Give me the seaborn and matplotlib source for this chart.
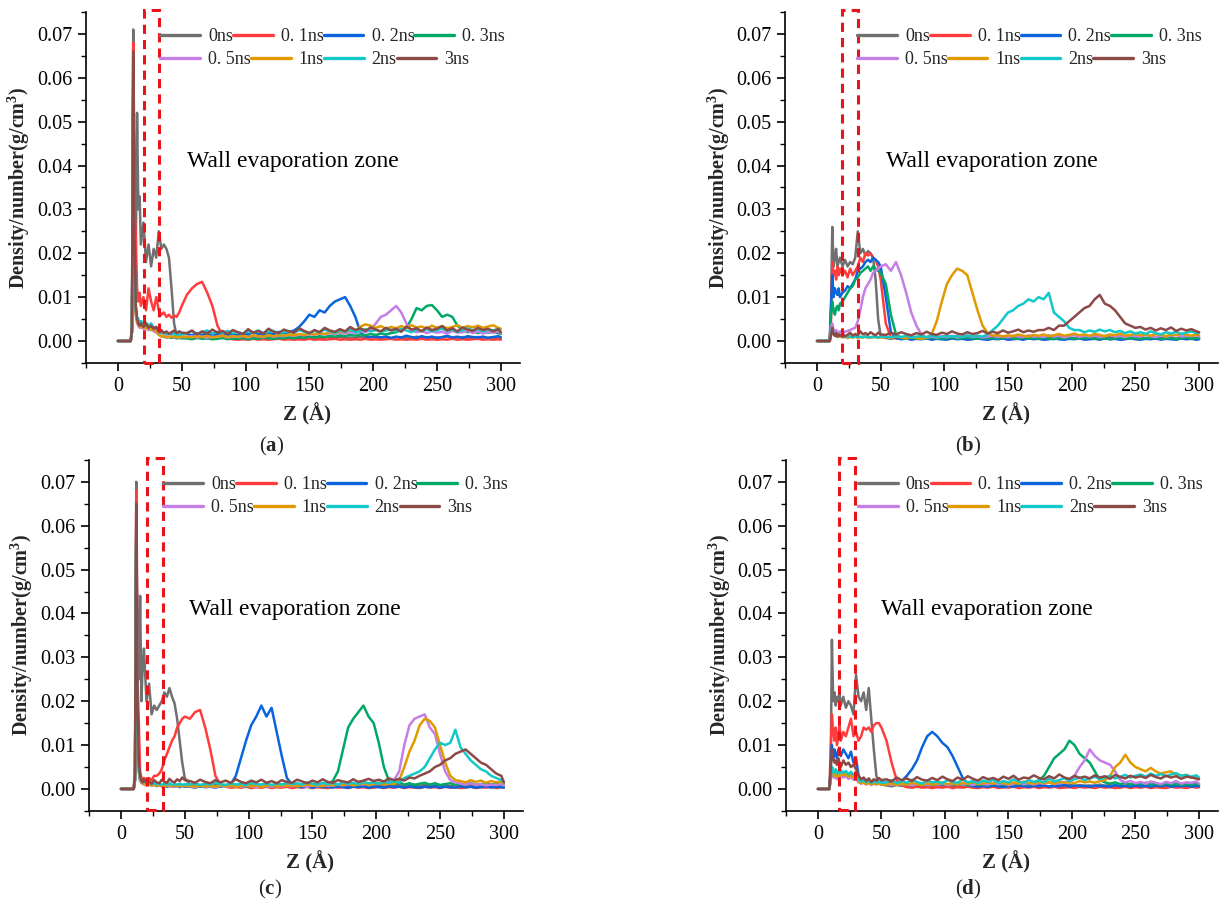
import matplotlib
matplotlib.use("Agg")
import matplotlib.pyplot as plt
import matplotlib.ticker as mticker
from matplotlib.lines import Line2D
from matplotlib.patches import Rectangle
import pandas as pd
import seaborn as sns

# sample positions along Z (Angstrom), shared by every curve
z = [0, 9, 10, 11, 12, 13, 14, 15, 16, 17, 18,
     20, 22, 24, 26, 28, 30, 32, 34, 36, 38, 40, 42, 44, 46, 48, 50,
     54, 58, 62, 66, 70, 74, 78, 82, 86, 90,
     94, 98, 102, 106, 110, 114, 118, 122, 126, 130,
     134, 138, 142, 146, 150, 154, 158, 162, 166, 170,
     174, 178, 182, 186, 190, 194, 198, 202, 206, 210,
     214, 218, 222, 226, 230, 234, 238, 242, 246, 250,
     254, 258, 262, 266, 270, 274, 278, 282, 286, 290,
     294, 298, 300]

times = ["0ns", "0.1ns", "0.2ns", "0.3ns", "0.5ns", "1ns", "2ns", "3ns"]
legend_labels = ["0ns", "0. 1ns", "0. 2ns", "0. 3ns", "0. 5ns", "1ns", "2ns", "3ns"]
colors = ["#707070", "#ff3d3d", "#0a64dc", "#00a865", "#c47ee6", "#e09a00", "#12c8c8", "#8b4a48"]

# density values, in units of 1e-3 g/cm^3
# ---- panel (a)
a_0ns = [0, 0, 0, 3, 71, 35, 20, 52, 30, 33, 22,
         27, 18, 22, 17, 21, 19, 25, 21, 22, 21, 19, 12, 4, 1.2, 0.8, 1.0,
         0.8, 1.0, 0.7, 0.9, 0.6, 0.8, 1.0, 0.7, 0.9, 0.6,
         0.8, 0.7, 1.0, 0.6, 0.9, 0.7, 0.8, 1.0, 0.6, 0.9,
         0.7, 0.8, 0.6, 1.0, 0.7, 0.9, 0.6, 0.8, 1.0, 0.7,
         0.9, 0.6, 0.8, 0.7, 1.0, 0.6, 0.9, 0.7, 0.8, 1.0,
         0.6, 0.9, 0.7, 0.8, 0.6, 1.0, 0.7, 0.9, 0.6, 0.8,
         0.7, 1.0, 0.6, 0.8, 0.9, 0.7, 0.6, 0.9, 0.8, 0.7,
         0.9, 0.6, 0.8]
a_01 = [0, 0, 0, 2, 68, 30, 24, 12, 9, 11, 8,
        10, 7, 12, 9, 7, 10, 7, 6, 6.5, 5.5, 6, 5.3, 5.8, 5.5, 6.5, 8,
        10.5, 12, 13, 13.5, 11, 8, 3.5, 1.2, 0.6, 0.4,
        0.3, 0.4, 0.3, 0.5, 0.3, 0.4, 0.3, 0.4, 0.5, 0.3,
        0.4, 0.3, 0.4, 0.3, 0.5, 0.3, 0.4, 0.3, 0.4, 0.5,
        0.3, 0.4, 0.3, 0.4, 0.3, 0.5, 0.3, 0.4, 0.3, 0.4,
        0.5, 0.3, 0.4, 0.3, 0.4, 0.3, 0.5, 0.3, 0.4, 0.3,
        0.4, 0.3, 0.5, 0.3, 0.4, 0.3, 0.4, 0.5, 0.3, 0.4,
        0.3, 0.4, 0.3]
a_02 = [0, 0, 0, 2, 60, 20, 8, 5, 4.5, 4, 4.5,
        3.5, 4, 3, 3.5, 3, 2.5, 2, 2.2, 1.8, 2, 1.7, 1.9, 1.6, 1.8, 1.5, 1.7,
        1.6, 1.3, 1.8, 1.4, 1.7, 1.2, 1.6, 1.9, 1.4, 1.7,
        1.3, 1.8, 1.5, 2.0, 1.6, 1.4, 1.9, 1.5, 2.1, 1.7,
        2.0, 2.4, 3.2, 4.5, 6.0, 5.5, 7.0, 6.5, 8.0, 9.0,
        9.5, 10.0, 8.0, 5.5, 2.0, 1.0, 0.9, 1.1, 0.8, 1.0,
        0.7, 1.0, 0.8, 1.2, 0.9, 0.7, 1.1, 0.8, 1.0, 0.7,
        0.9, 1.2, 0.8, 1.0, 0.7, 1.1, 0.9, 0.8, 1.0, 0.7,
        0.9, 1.1, 0.8]
a_03 = [0, 0, 0, 2, 55, 18, 7, 4.5, 4, 3.5, 4,
        3, 3.5, 2.5, 3, 2.5, 2, 1.5, 1.2, 1, 0.8, 0.9, 0.7, 0.8, 0.6, 0.7, 0.6,
        0.6, 0.4, 0.7, 0.5, 0.6, 0.4, 0.5, 0.7, 0.4, 0.6,
        0.5, 0.7, 0.4, 0.6, 0.5, 0.8, 0.6, 0.5, 0.7, 0.6,
        0.8, 0.6, 0.9, 0.7, 1.0, 0.8, 1.1, 0.9, 1.2, 1.0,
        1.3, 1.1, 1.4, 1.2, 1.5, 1.3, 1.6, 1.4, 1.7, 1.5,
        1.8, 2.0, 2.5, 3.0, 5.0, 7.5, 7.0, 8.0, 8.2, 7.0,
        5.5, 6.0, 5.5, 3.5, 2.5, 2.0, 2.3, 1.8, 2.2, 1.9,
        2.1, 1.8, 1.6]
a_05 = [0, 0, 0, 2, 50, 15, 6, 4, 3.5, 3, 3.2,
        2.8, 3, 2.5, 2.7, 2.2, 2, 1.5, 1.2, 1, 1.1, 0.9, 1, 0.8, 0.9, 0.8, 0.9,
        0.9, 1.1, 0.8, 1.0, 0.7, 1.0, 0.9, 1.2, 0.8, 1.0,
        0.9, 1.1, 0.8, 1.2, 1.0, 0.9, 1.3, 1.0, 1.2, 1.1,
        1.4, 1.2, 1.5, 1.3, 1.6, 1.4, 1.7, 1.5, 1.8, 1.6,
        1.9, 1.7, 2.0, 1.8, 2.2, 2.0, 2.5, 4.0, 5.5, 6.0,
        7.0, 8.0, 6.5, 4.0, 2.5, 2.0, 2.3, 1.8, 2.2, 1.9,
        2.1, 1.7, 2.3, 1.9, 2.0, 2.4, 1.8, 2.2, 1.7, 2.1,
        1.9, 2.2, 1.8]
a_1 = [0, 0, 0, 2, 52, 16, 6, 4.5, 3.5, 4, 3,
       3.5, 2.8, 3.2, 2.5, 2.8, 2.2, 1.4, 1, 1.2, 0.8, 1, 0.9, 1.1, 0.8, 1, 0.9,
       1.0, 0.8, 1.1, 0.9, 1.2, 0.8, 1.0, 1.2, 0.9, 1.1,
       1.0, 1.2, 0.9, 1.3, 1.1, 1.0, 1.3, 1.1, 1.4, 1.2,
       1.5, 1.3, 1.6, 1.4, 1.7, 1.5, 1.8, 1.6, 2.0, 1.8,
       2.2, 2.0, 2.5, 2.3, 3.3, 3.8, 3.5, 3.0, 3.4, 2.8,
       3.2, 2.9, 3.4, 3.0, 3.6, 3.1, 3.3, 2.8, 3.5, 3.0,
       3.4, 2.9, 3.2, 3.6, 3.0, 3.4, 3.1, 3.5, 3.0, 3.3,
       3.6, 3.0, 2.8]
a_2 = [0, 0, 0, 2, 58, 20, 7, 5.5, 5, 4, 4.5,
       3.8, 4.2, 3.5, 4, 3, 3.2, 2, 1.8, 2, 1.6, 1.8, 1.5, 1.7, 1.4, 1.6, 1.5,
       1.8, 2.2, 1.6, 2.0, 2.4, 1.7, 2.1, 1.9, 2.3, 1.8,
       2.0, 1.7, 2.2, 1.9, 2.4, 1.8, 2.1, 2.3, 1.7, 2.0,
       2.2, 1.9, 2.5, 2.1, 1.8, 2.3, 2.0, 2.6, 2.2, 1.9,
       2.4, 2.1, 2.6, 2.0, 2.3, 2.7, 2.2, 2.5, 2.1, 2.4,
       2.6, 2.2, 2.8, 2.4, 2.0, 2.6, 2.3, 2.7, 2.2, 2.5,
       2.8, 2.3, 2.6, 2.1, 2.5, 2.9, 2.4, 2.7, 2.2, 2.6,
       2.4, 2.8, 2.0]
a_3 = [0, 0, 0, 3, 66, 25, 8, 5, 4, 3.5, 4,
       3.2, 4, 3, 3.5, 2.8, 3.2, 2.2, 2.5, 1.8, 2.2, 1.6, 2, 2.4, 1.8, 2.2, 1.9,
       1.8, 2.4, 1.5, 2.2, 1.7, 2.6, 1.9, 2.3, 1.6, 2.5,
       2.0, 1.6, 2.7, 1.9, 2.3, 1.7, 2.8, 2.1, 1.8, 2.6,
       2.2, 1.9, 2.9, 2.3, 1.8, 2.5, 2.0, 3.0, 2.4, 2.1,
       2.7, 2.2, 3.2, 2.5, 2.9, 2.3, 3.1, 2.6, 2.2, 3.0,
       2.4, 2.8, 2.1, 3.3, 2.6, 2.9, 2.2, 3.1, 2.5, 2.8,
       3.4, 2.4, 2.9, 2.2, 3.1, 2.6, 2.3, 3.0, 2.5, 2.8,
       2.2, 2.7, 2.0]

# ---- panel (b)
b_0ns = [0, 0, 0, 8, 26, 17, 19, 21, 17, 18, 19,
         17, 18.5, 17, 18, 17.5, 19, 25, 20, 21, 19.5, 20.5, 20, 19, 14, 5, 1,
         0.7, 0.5, 0.8, 0.6, 0.9, 0.5, 0.7, 0.6, 0.8, 0.5,
         0.7, 0.9, 0.6, 0.8, 0.5, 0.7, 0.6, 0.9, 0.5, 0.8,
         0.6, 0.7, 0.5, 0.8, 0.6, 0.9, 0.7, 0.5, 0.8, 0.6,
         0.7, 0.5, 0.9, 0.6, 0.8, 0.5, 0.7, 0.6, 0.9, 0.7,
         0.5, 0.8, 0.6, 0.7, 0.9, 0.5, 0.8, 0.6, 0.7, 0.5,
         0.9, 0.6, 0.8, 0.5, 0.7, 0.6, 0.9, 0.5, 0.8, 0.6,
         0.7, 0.5, 0.8]
b_01 = [0, 0, 0, 5, 18, 15, 16, 14, 17, 15, 16.5,
        15, 16, 14.5, 16.5, 15, 16, 17, 19, 18, 20, 19.5, 20, 19, 18.5, 17, 14,
        4, 0.8, 0.6, 0.5, 0.7, 0.4, 0.6, 0.5, 0.7, 0.4,
        0.6, 0.5, 0.4, 0.7, 0.5, 0.6, 0.4, 0.5, 0.7, 0.5,
        0.4, 0.6, 0.5, 0.7, 0.4, 0.5, 0.6, 0.4, 0.7, 0.5,
        0.6, 0.4, 0.5, 0.7, 0.5, 0.4, 0.6, 0.5, 0.7, 0.4,
        0.5, 0.6, 0.4, 0.7, 0.5, 0.6, 0.4, 0.5, 0.7, 0.5,
        0.4, 0.6, 0.5, 0.7, 0.4, 0.6, 0.5, 0.4, 0.7, 0.5,
        0.6, 0.4, 0.5]
b_02 = [0, 0, 0, 8, 15, 10, 12, 11, 10.5, 12, 10,
        11, 11.5, 12.5, 12, 13, 14, 16, 16.5, 17, 18, 18.5, 18, 19, 18.5, 18, 17,
        10, 2, 0.7, 0.4, 0.6, 0.3, 0.5, 0.4, 0.6, 0.3,
        0.5, 0.4, 0.3, 0.6, 0.4, 0.5, 0.3, 0.4, 0.6, 0.4,
        0.3, 0.5, 0.4, 0.6, 0.3, 0.4, 0.5, 0.3, 0.6, 0.4,
        0.5, 0.3, 0.4, 0.6, 0.4, 0.3, 0.5, 0.4, 0.6, 0.3,
        0.4, 0.5, 0.3, 0.6, 0.4, 0.5, 0.3, 0.4, 0.6, 0.4,
        0.3, 0.5, 0.4, 0.6, 0.3, 0.5, 0.4, 0.3, 0.6, 0.4,
        0.5, 0.3, 0.4]
b_03 = [0, 0, 0, 6, 9, 7, 6, 7.5, 8, 7, 8.5,
        9, 10, 11, 12, 12.5, 14, 14.5, 15.5, 16, 16.5, 17, 16, 17, 16.5, 16, 15.5,
        13, 6, 1.5, 0.8, 0.6, 0.9, 0.5, 0.7, 0.6, 0.8,
        0.5, 0.7, 0.6, 0.9, 0.5, 0.7, 0.8, 0.6, 0.5, 0.7,
        0.6, 0.8, 0.5, 0.7, 0.9, 0.6, 0.5, 0.8, 0.6, 0.7,
        0.5, 0.8, 0.6, 0.4, 0.7, 0.6, 0.8, 0.5, 0.7, 0.6,
        0.8, 0.5, 0.6, 0.7, 0.4, 0.6, 0.8, 0.5, 0.7, 0.6,
        0.5, 0.7, 0.6, 0.8, 0.5, 0.6, 0.7, 0.4, 0.6, 0.8,
        0.5, 0.7, 0.6]
b_05 = [0, 0, 0, 3, 4, 2.5, 2, 2.5, 2, 1.8, 2.2,
        1.9, 2.1, 2.3, 2.5, 2.8, 3, 4.5, 7, 10, 12, 13, 14, 15.5, 16, 16.5, 17,
        17.5, 16, 18, 15, 11, 6.5, 3.5, 1.5, 0.8, 1.0,
        0.8, 1.1, 0.9, 1.2, 0.8, 1.0, 1.2, 0.9, 1.1, 0.8,
        1.0, 1.2, 0.9, 1.1, 0.8, 1.2, 1.0, 0.9, 1.3, 1.0,
        1.1, 0.9, 1.3, 1.0, 1.2, 0.8, 1.1, 1.3, 0.9, 1.2,
        1.0, 1.3, 0.9, 1.1, 1.4, 1.0, 1.2, 0.9, 1.3, 1.1,
        1.0, 1.4, 1.1, 0.9, 1.3, 1.0, 1.2, 1.4, 1.0, 1.2,
        1.1, 1.3, 1.0]
b_1 = [0, 0, 0, 1.5, 2.5, 1.5, 1.2, 1.0, 1.3, 0.9, 1.1,
       0.8, 1.0, 0.7, 0.9, 0.8, 1.0, 0.7, 0.9, 0.8, 1.0, 0.7, 0.9, 0.8, 1.0, 0.7, 0.8,
       0.9, 0.7, 1.0, 0.8, 0.6, 0.9, 0.7, 0.5, 0.8, 1.5,
       4.5, 9, 13, 15, 16.5, 16, 15, 11, 7, 3.5,
       1.8, 1.2, 1.4, 1.0, 1.3, 1.1, 1.5, 1.2, 1.0, 1.4,
       1.2, 1.5, 1.1, 1.3, 1.6, 1.2, 1.4, 1.7, 1.3, 1.5,
       1.2, 1.6, 1.4, 1.1, 1.5, 1.3, 1.7, 1.2, 1.4, 1.6,
       1.3, 1.5, 1.2, 1.6, 1.4, 1.1, 1.5, 1.3, 1.7, 1.4,
       1.2, 1.5, 1.3]
b_2 = [0, 0, 0, 2, 3, 1.8, 1.5, 1.2, 1.4, 1.0, 1.3,
       1.1, 0.9, 1.2, 1.0, 0.8, 1.1, 0.9, 1.0, 0.8, 1.1, 0.9, 0.8, 1.0, 0.9, 0.8, 1.0,
       1.0, 0.8, 1.1, 0.9, 1.2, 0.8, 1.0, 1.1, 0.9, 1.2,
       1.0, 0.9, 1.2, 1.0, 1.1, 0.9, 1.3, 1.0, 1.2, 1.0,
       1.5, 2.5, 3.5, 5, 6.5, 7, 8, 8.5, 9.5, 9,
       10, 9.5, 11, 6.5, 5.5, 4.5, 3, 2.5, 2.5, 2.0,
       2.4, 2.1, 2.6, 2.2, 2.5, 2.0, 2.3, 1.8, 2.2, 1.7,
       2.0, 1.6, 2.2, 1.8, 1.5, 2.0, 1.7, 2.1, 1.6, 1.9,
       2.2, 1.8, 1.9]
b_3 = [0, 0, 0, 1.5, 3, 1.5, 1.2, 1.8, 1.0, 1.5, 1.2,
       1.7, 1.1, 1.4, 1.9, 1.2, 1.6, 1.3, 2.2, 1.5, 1.8, 1.4, 2.0, 1.6, 1.3, 1.9, 1.5,
       1.4, 1.9, 1.5, 2.0, 1.6, 1.3, 1.8, 1.5, 2.1, 1.6,
       1.4, 1.9, 1.6, 2.2, 1.7, 1.5, 2.0, 1.6, 1.8, 2.3,
       1.7, 2.1, 1.8, 2.4, 1.9, 2.2, 2.6, 2.0, 2.4, 2.1,
       2.5, 2.5, 3.0, 2.5, 3.5, 3.5, 4.5, 5.5, 6.5, 7.5,
       8.0, 9.5, 10.5, 8.5, 8.0, 7.0, 5.5, 4.0, 3.5, 3.0,
       3.2, 2.6, 3.0, 2.4, 2.9, 2.5, 3.1, 2.3, 2.8, 2.4,
       2.7, 2.2, 2.0]

# ---- panel (c)
c_0ns = [0, 0, 0, 5, 70, 30, 25, 44, 20, 28, 32,
         20, 24, 17, 19, 18, 19, 20, 22, 21, 23, 21, 19.5, 16, 11, 6, 2.5,
         1.0, 0.7, 0.9, 0.6, 0.8, 1.0, 0.7, 0.9, 0.6, 0.8,
         0.7, 1.0, 0.6, 0.9, 0.7, 0.8, 0.6, 1.0, 0.7, 0.9,
         0.6, 0.8, 1.0, 0.7, 0.9, 0.6, 0.8, 0.7, 1.0, 0.6,
         0.9, 0.7, 0.8, 1.0, 0.6, 0.9, 0.7, 0.8, 0.6, 1.0,
         0.7, 0.9, 0.6, 0.8, 1.0, 0.7, 0.9, 0.6, 0.8, 0.7,
         1.0, 0.6, 0.9, 0.7, 0.8, 1.0, 0.6, 0.9, 0.7, 0.8,
         0.6, 0.9, 0.7]
c_01 = [0, 0, 0, 3, 68, 25, 15, 4, 2.5, 2, 2.5,
        2, 2.5, 2, 3, 3, 3.5, 4.5, 6.5, 8, 9.5, 11, 12, 14, 15, 16, 16.5,
        16, 17.5, 18, 14, 9, 3, 0.8, 0.5, 0.3, 0.4,
        0.3, 0.5, 0.2, 0.4, 0.3, 0.5, 0.2, 0.4, 0.3, 0.5,
        0.2, 0.4, 0.3, 0.5, 0.2, 0.4, 0.3, 0.2, 0.5, 0.3,
        0.4, 0.2, 0.5, 0.3, 0.4, 0.2, 0.3, 0.5, 0.2, 0.4,
        0.3, 0.5, 0.2, 0.4, 0.3, 0.2, 0.5, 0.3, 0.4, 0.2,
        0.5, 0.3, 0.4, 0.2, 0.3, 0.5, 0.2, 0.4, 0.3, 0.5,
        0.2, 0.4, 0.3]
c_02 = [0, 0, 0, 2, 62, 18, 5, 2, 1.5, 1.2, 1.4,
        1.0, 1.2, 0.8, 1.0, 0.7, 0.9, 0.6, 0.8, 0.5, 0.7, 0.6, 0.5, 0.7, 0.4, 0.6, 0.5,
        0.5, 0.3, 0.6, 0.4, 0.5, 0.3, 0.6, 0.7, 1.0, 3.0,
        7, 11, 14.5, 16.5, 19, 16.5, 18.5, 13, 7.5, 2.5,
        1.0, 0.6, 0.4, 0.5, 0.3, 0.6, 0.4, 0.5, 0.3, 0.6,
        0.4, 0.3, 0.5, 0.4, 0.6, 0.3, 0.5, 0.4, 0.3, 0.6,
        0.4, 0.5, 0.3, 0.6, 0.4, 0.3, 0.5, 0.4, 0.6, 0.3,
        0.5, 0.4, 0.3, 0.6, 0.4, 0.5, 0.3, 0.4, 0.6, 0.3,
        0.5, 0.4, 0.3]
c_03 = [0, 0, 0, 2, 58, 15, 4, 2, 1.4, 1.6, 1.2,
        1.0, 1.3, 0.9, 1.1, 0.8, 1.0, 0.7, 0.9, 0.6, 0.8, 0.7, 0.6, 0.8, 0.5, 0.7, 0.6,
        0.6, 0.8, 0.5, 0.9, 0.6, 0.7, 0.5, 0.8, 0.6, 0.9,
        0.7, 0.5, 0.8, 0.6, 0.9, 0.7, 0.5, 0.8, 1.0, 0.7,
        0.9, 0.6, 1.0, 0.8, 1.1, 0.9, 1.0, 1.2, 1.8, 4.0,
        9.0, 14.0, 16.0, 17.5, 19.0, 16.5, 15.0, 10.5, 5.0, 1.8,
        1.2, 1.5, 1.0, 1.3, 0.9, 1.2, 1.4, 1.0, 1.3, 0.9,
        1.1, 1.3, 0.9, 1.2, 1.0, 1.4, 0.9, 1.1, 1.3, 1.0,
        1.2, 0.9, 0.8]
c_05 = [0, 0, 0, 2, 55, 14, 4, 2, 1.5, 1.2, 1.0,
        0.8, 1.1, 0.7, 0.9, 0.6, 0.8, 0.7, 0.5, 0.8, 0.6, 0.7, 0.5, 0.6, 0.8, 0.5, 0.7,
        0.6, 0.4, 0.7, 0.5, 0.6, 0.4, 0.7, 0.5, 0.6, 0.8,
        0.5, 0.7, 0.6, 0.4, 0.8, 0.6, 0.5, 0.7, 0.6, 0.8,
        0.6, 0.9, 0.7, 0.5, 0.8, 0.6, 0.9, 0.7, 0.8, 1.0,
        0.8, 1.1, 0.9, 1.2, 1.0, 1.3, 1.1, 1.4, 1.2, 1.5,
        2.0, 4.0, 10.0, 14.5, 16.0, 16.5, 17.0, 14.0, 12.5, 8.0,
        4.0, 2.0, 1.5, 1.2, 1.0, 1.3, 0.9, 1.1, 0.8, 1.0,
        0.9, 1.1, 0.8]
c_1 = [0, 0, 0, 2, 56, 15, 4, 2.2, 1.6, 1.3, 1.1,
       0.9, 1.2, 0.8, 1.0, 0.7, 0.9, 0.6, 0.8, 0.7, 0.9, 0.6, 0.8, 0.7, 0.6, 0.9, 0.7,
       0.7, 0.5, 0.8, 0.6, 0.7, 0.5, 0.9, 0.6, 0.8, 0.5,
       0.7, 0.9, 0.6, 0.8, 0.5, 0.7, 0.9, 0.6, 0.8, 0.7,
       0.9, 0.6, 0.8, 1.0, 0.7, 0.9, 0.6, 1.0, 0.8, 1.1,
       0.9, 1.2, 0.8, 1.0, 1.3, 0.9, 1.1, 1.4, 1.0, 1.2,
       1.2, 2.0, 5.0, 8.5, 11.0, 14.5, 16.0, 15.5, 14.0, 10.0,
       6.0, 3.0, 2.0, 1.8, 1.5, 2.0, 1.6, 1.9, 1.4, 1.8,
       1.5, 1.7, 1.3]
c_2 = [0, 0, 0, 2, 60, 16, 5, 2.5, 2.0, 1.6, 1.8,
       1.3, 1.5, 1.1, 1.4, 1.0, 1.3, 0.9, 1.2, 1.0, 1.3, 0.9, 1.1, 1.0, 1.2, 0.9, 1.1,
       1.0, 1.3, 0.9, 1.2, 1.0, 1.4, 1.1, 0.9, 1.3, 1.0,
       1.2, 0.9, 1.4, 1.1, 1.0, 1.3, 0.9, 1.2, 1.0, 1.4,
       1.1, 1.3, 1.0, 1.5, 1.2, 1.0, 1.4, 1.1, 1.3, 1.0,
       1.5, 1.2, 1.4, 1.1, 1.6, 1.3, 1.5, 1.2, 1.6, 1.4,
       1.7, 1.5, 2.5, 3.0, 3.5, 4.0, 5.0, 7.0, 9.0, 10.5,
       10.0, 10.5, 13.5, 9.5, 8.0, 6.5, 5.5, 4.5, 4.0, 3.0,
       2.5, 2.0, 1.5]
c_3 = [0, 0, 0, 3, 65, 20, 6, 3, 2.0, 1.5, 2.2,
       1.4, 1.8, 1.2, 2.0, 1.5, 1.3, 2.1, 1.6, 1.4, 2.3, 1.7, 1.5, 2.2, 1.8, 2.6, 2.0,
       1.8, 1.4, 2.1, 1.6, 1.3, 2.0, 1.5, 1.9, 1.4, 2.2,
       1.6, 1.3, 1.9, 1.5, 2.1, 1.4, 1.8, 1.3, 2.0, 1.6,
       1.4, 2.1, 1.7, 1.3, 1.9, 1.5, 2.2, 1.6, 1.4, 2.0,
       1.7, 1.5, 2.2, 1.6, 1.9, 2.3, 1.8, 2.1, 1.7, 2.4,
       2.0, 2.3, 1.9, 2.6, 2.4, 3.0, 3.5, 4.0, 5.0, 5.5,
       6.5, 7.0, 8.0, 8.5, 9.0, 8.0, 7.0, 6.0, 5.5, 4.5,
       3.5, 3.0, 1.5]

# ---- panel (d)
d_0ns = [0, 0, 3, 34, 20, 22, 19, 21, 20, 22, 19,
         21, 18.5, 20, 19, 17, 26, 21, 20, 22, 18, 23, 16, 9, 3, 1.2, 1.0,
         0.8, 0.6, 0.9, 0.7, 1.0, 0.6, 0.8, 0.7, 0.9, 0.6,
         1.0, 0.7, 0.8, 0.6, 0.9, 0.7, 1.0, 0.6, 0.8, 0.9,
         0.7, 0.6, 0.9, 0.8, 0.6, 1.0, 0.7, 0.9, 0.6, 0.8,
         1.0, 0.7, 0.6, 0.9, 0.8, 0.7, 1.0, 0.6, 0.9, 0.7,
         0.8, 0.6, 1.0, 0.7, 0.9, 0.6, 0.8, 0.7, 1.0, 0.6,
         0.9, 0.7, 0.8, 0.6, 1.0, 0.7, 0.9, 0.6, 0.8, 0.7,
         1.0, 0.6, 0.8]
d_01 = [0, 0, 8, 17, 13, 11, 14, 10, 12, 15, 11,
        13, 12, 14, 16, 12, 13, 11, 12, 14, 13.5, 14, 13, 14.5, 15, 15, 14,
        11, 6, 2, 0.8, 0.4, 0.3, 0.5, 0.3, 0.4, 0.2,
        0.4, 0.3, 0.5, 0.2, 0.4, 0.3, 0.5, 0.3, 0.2, 0.4,
        0.3, 0.5, 0.2, 0.4, 0.3, 0.5, 0.2, 0.4, 0.3, 0.5,
        0.2, 0.4, 0.3, 0.5, 0.2, 0.3, 0.4, 0.2, 0.5, 0.3,
        0.4, 0.2, 0.5, 0.3, 0.4, 0.2, 0.3, 0.5, 0.2, 0.4,
        0.3, 0.5, 0.2, 0.4, 0.3, 0.2, 0.5, 0.3, 0.4, 0.2,
        0.5, 0.3, 0.4]
d_02 = [0, 0, 5, 10, 7, 9, 8, 7, 9, 8, 7.5,
        9, 8, 7, 8.5, 6, 7, 3, 2, 2.5, 1.8, 2, 1.5, 1.8, 1.5, 1.6, 1.5,
        1.4, 1.5, 1.3, 1.8, 3.0, 4.5, 6.5, 9.5, 12, 13,
        12, 10.5, 9.5, 7.5, 5, 2.5, 1.0, 0.6, 0.5, 0.7,
        0.5, 0.8, 0.6, 0.4, 0.7, 0.5, 0.8, 0.6, 0.5, 0.7,
        0.6, 0.8, 0.5, 0.7, 0.6, 0.9, 0.5, 0.8, 0.6, 0.7,
        0.5, 0.8, 0.6, 0.7, 0.5, 0.9, 0.6, 0.7, 0.5, 0.8,
        0.6, 0.7, 0.5, 0.8, 0.6, 0.9, 0.5, 0.7, 0.6, 0.8,
        0.5, 0.7, 0.6]
d_03 = [0, 0, 2, 5, 4, 3.5, 4.2, 3, 3.8, 3.2, 4,
        3.4, 3.6, 3, 3.5, 2.8, 3.2, 2, 1.5, 1.8, 1.3, 1.6, 1.2, 1.5, 1.1, 1.4, 1.2,
        1.2, 0.9, 1.3, 1.0, 1.1, 0.8, 1.2, 1.0, 0.9, 1.3,
        1.0, 1.2, 0.9, 1.1, 1.3, 1.0, 0.8, 1.2, 1.0, 1.1,
        0.9, 1.3, 1.0, 1.2, 0.9, 1.1, 1.3, 1.0, 1.2, 1.5,
        2.0, 3.0, 5.0, 7.0, 8.0, 9.0, 11.0, 10.0, 8.0, 7.0,
        6.0, 4.0, 2.0, 1.5, 1.2, 1.5, 1.1, 1.4, 1.0, 1.3,
        1.1, 1.4, 1.0, 1.2, 0.9, 1.3, 1.0, 1.2, 0.9, 1.1,
        1.0, 1.2, 0.9]
d_05 = [0, 0, 2, 4, 3, 2.5, 3.2, 2.2, 2.8, 2.4, 3,
        2.6, 2.9, 2.3, 2.7, 2.1, 2.5, 1.5, 1.2, 1.4, 1.0, 1.3, 0.9, 1.2, 1.0, 1.3, 1.1,
        1.2, 0.9, 1.3, 1.0, 1.2, 0.8, 1.1, 1.3, 0.9, 1.2,
        1.0, 1.3, 0.9, 1.1, 1.4, 1.0, 1.2, 0.9, 1.3, 1.1,
        1.0, 1.4, 1.1, 1.3, 0.9, 1.2, 1.5, 1.1, 1.3, 1.0,
        1.4, 1.2, 1.5, 1.1, 1.3, 1.6, 1.5, 3.0, 5.0, 6.5,
        9.0, 7.5, 6.5, 6.0, 5.5, 4.0, 2.0, 1.5, 1.8, 1.3,
        1.6, 1.2, 1.7, 1.4, 1.1, 1.6, 1.3, 1.8, 1.2, 1.5,
        1.4, 1.7, 1.2]
d_1 = [0, 0, 2, 4.5, 3.5, 3, 3.8, 2.8, 3.3, 2.9, 3.6,
       3.1, 3.4, 2.7, 3.2, 2.6, 3, 1.6, 1.3, 1.5, 1.1, 1.4, 1.0, 1.3, 1.1, 1.2, 1.0,
       1.0, 1.3, 0.9, 1.2, 1.0, 1.4, 1.1, 0.9, 1.3, 1.0,
       1.2, 1.5, 1.1, 1.3, 1.0, 1.4, 1.2, 1.6, 1.1, 1.3,
       1.5, 1.2, 1.6, 1.3, 1.1, 1.5, 1.2, 1.7, 1.4, 1.2,
       1.6, 1.3, 1.5, 1.2, 1.7, 1.4, 1.6, 1.3, 1.8, 1.5,
       1.7, 1.4, 1.8, 2.0, 3.0, 5.0, 6.0, 7.8, 6.0, 5.0,
       4.5, 4.0, 4.8, 4.0, 3.5, 3.8, 4.0, 3.2, 3.0, 3.2,
       2.6, 2.4, 2.2]
d_2 = [0, 0, 2, 5, 4, 3.8, 4.5, 3.5, 4, 3.6, 4.3,
       3.7, 4.1, 3.4, 3.9, 3.2, 3.6, 2, 1.7, 2, 1.5, 1.8, 1.4, 1.7, 1.5, 1.6, 1.4,
       1.5, 2.0, 1.3, 1.8, 1.4, 2.1, 1.6, 1.2, 1.9, 1.5,
       1.7, 1.3, 2.0, 1.6, 1.4, 2.2, 1.5, 1.8, 1.3, 1.9,
       1.6, 2.1, 1.4, 1.8, 1.5, 2.2, 1.7, 1.4, 2.0, 1.6,
       1.9, 1.5, 2.3, 1.7, 2.0, 2.5, 1.8, 2.2, 2.6, 2.0,
       2.4, 2.8, 2.2, 2.6, 3.0, 2.4, 2.8, 3.2, 2.6, 3.0,
       3.3, 2.8, 3.5, 3.0, 3.4, 2.9, 3.3, 3.6, 3.0, 3.2,
       2.8, 3.1, 2.6]
d_3 = [0, 0, 4, 9, 7, 6, 6.5, 5.5, 7, 6, 5,
       6.5, 5.5, 6, 5, 5.5, 4.5, 3, 2.2, 2.6, 1.8, 2.4, 1.6, 2.2, 1.9, 2.5, 2.0,
       2.2, 1.7, 2.6, 2.0, 2.4, 1.8, 2.7, 2.1, 1.9, 2.5,
       2.0, 2.8, 2.2, 1.8, 2.6, 2.1, 2.9, 2.3, 1.9, 2.7,
       2.2, 2.5, 2.0, 2.8, 2.3, 3.0, 2.1, 2.6, 2.4, 3.1,
       2.5, 2.2, 2.9, 2.4, 3.3, 2.6, 2.3, 3.0, 2.5, 2.8,
       2.4, 3.1, 2.6, 2.9, 2.3, 3.2, 2.7, 2.4, 3.0, 2.6,
       2.9, 2.5, 3.2, 2.7, 2.4, 3.0, 2.6, 2.9, 2.3, 2.8,
       2.6, 2.4, 2.2]

panels = {
    "a": [a_0ns, a_01, a_02, a_03, a_05, a_1, a_2, a_3],
    "b": [b_0ns, b_01, b_02, b_03, b_05, b_1, b_2, b_3],
    "c": [c_0ns, c_01, c_02, c_03, c_05, c_1, c_2, c_3],
    "d": [d_0ns, d_01, d_02, d_03, d_05, d_1, d_2, d_3],
}

# dashed "wall evaporation zone" box limits along Z for each panel
zone = {"a": (20.5, 32.0), "b": (19.4, 32.0), "c": (20.1, 32.6), "d": (16.8, 29.1)}

sns.set_style("ticks")
plt.rcParams["font.family"] = ["Liberation Serif", "DejaVu Sans"]
plt.rcParams["mathtext.fontset"] = "custom"
plt.rcParams["mathtext.rm"] = "Liberation Serif"
plt.rcParams["mathtext.bf"] = "Liberation Serif:bold"
plt.rcParams["mathtext.it"] = "Liberation Serif:italic"

fig = plt.figure(figsize=(12.2, 9.06), dpi=100)

layout = {
    "a": [0.0705, 0.5994, 0.3557, 0.3874],
    "b": [0.6436, 0.5994, 0.3549, 0.3874],
    "c": [0.0730, 0.1050, 0.3557, 0.3874],
    "d": [0.6444, 0.1050, 0.3540, 0.3874],
}
legend_x = {"a": 0.171, "b": 0.166, "c": 0.171, "d": 0.166}
text_z = {"a": 54, "b": 54, "c": 53, "d": 50}
tag_pos = {"a": (0.223, 0.507), "b": (0.794, 0.507), "c": (0.221, 0.018), "d": (0.794, 0.018)}


def draw_panel(key):
    ax = fig.add_axes(layout[key])

    rows = []
    for t, vals in zip(times, panels[key]):
        assert len(vals) == len(z), (key, t, len(vals))
        for zz, v in zip(z, vals):
            rows.append((zz, v * 1e-3, t))
    df = pd.DataFrame(rows, columns=["Z", "density", "time"])

    sns.lineplot(
        data=df, x="Z", y="density", hue="time",
        hue_order=times, palette=colors,
        estimator=None, sort=False, linewidth=1.8,
        legend=False, ax=ax
    )

    ax.set_xlim(-25, 315)
    ax.set_ylim(-0.005, 0.075)
    ax.xaxis.set_major_locator(mticker.MultipleLocator(50))
    ax.xaxis.set_minor_locator(mticker.MultipleLocator(25))
    ax.yaxis.set_major_locator(mticker.FixedLocator([0, 0.01, 0.02, 0.03, 0.04, 0.05, 0.06, 0.07]))
    ax.yaxis.set_minor_locator(mticker.MultipleLocator(0.005))
    ax.yaxis.set_major_formatter(mticker.FormatStrFormatter("%.2f"))

    sns.despine(ax=ax)
    for side in ["left", "bottom"]:
        ax.spines[side].set_color("black")
        ax.spines[side].set_linewidth(1.2)
    ax.tick_params(which="major", direction="out", length=6, width=1.2,
                   colors="black", labelsize=14.5, pad=4)
    ax.tick_params(which="minor", direction="out", length=3.5, width=1.0, colors="black")

    ax.set_xlabel("Z (Å)", fontsize=15, fontweight="bold")
    ax.set_ylabel(r"Density/number(g/cm$^\mathbf{3}$)", fontsize=14.5, fontweight="bold")
    ax.xaxis.set_label_coords(0.509, -0.114)
    ax.yaxis.set_label_coords(-0.124, 0.5)

    # dashed box marking the wall evaporation zone
    z0, z1 = zone[key]
    ax.add_patch(Rectangle((z0, -0.0049), z1 - z0, 0.0804, fill=False,
                           edgecolor="#e8141a", linewidth=2.2,
                           linestyle=(0, (3, 2)), clip_on=False, zorder=5))

    ax.text(text_z[key], 0.041, "Wall evaporation zone", fontsize=17,
            ha="left", va="center", color="black")

    handles = [Line2D([], [], color=c, linewidth=2.4) for c in colors]
    leg_kw = dict(ncol=4, loc="center left", frameon=False, fontsize=13,
                  handlelength=2.2, handletextpad=0.45, columnspacing=0.0,
                  borderpad=0, borderaxespad=0)
    leg1 = ax.legend(handles[:4], legend_labels[:4],
                     bbox_to_anchor=(legend_x[key], 0.929), **leg_kw)
    ax.add_artist(leg1)
    ax.legend(handles[4:], legend_labels[4:],
              bbox_to_anchor=(legend_x[key], 0.864), **leg_kw)

    tx, ty = tag_pos[key]
    fig.text(tx, ty, r"($\mathbf{%s}$)" % key, fontsize=15, ha="center", va="center")
    return ax


for key in ["a", "b", "c", "d"]:
    draw_panel(key)

fig.savefig("out.png", dpi=100)
plt.close(fig)
